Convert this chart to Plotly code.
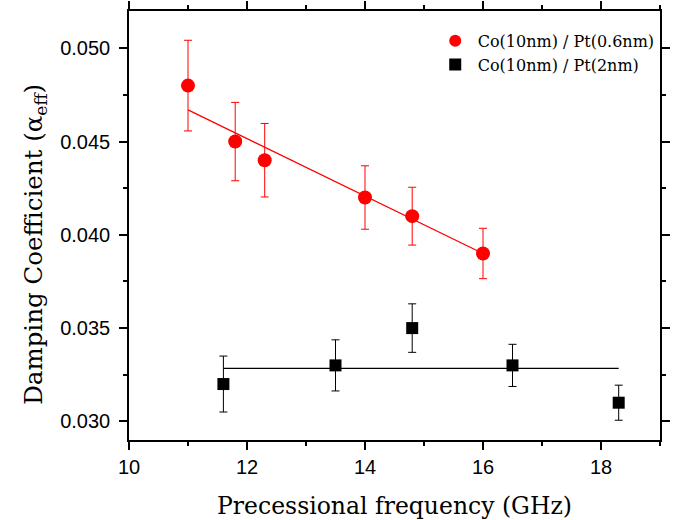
import plotly.graph_objects as go

# Co(10nm)/Pt(0.6nm)
red_x = [11.0, 11.8, 12.3, 14.0, 14.8, 16.0]
red_y = [0.0480, 0.0450, 0.0440, 0.0420, 0.0410, 0.0390]
red_err = [0.00243, 0.0021, 0.00197, 0.0017, 0.00155, 0.00135]
red_fit_x = [11.0, 16.0]
red_fit_y = [0.0467, 0.0390]

# Co(10nm)/Pt(2nm)
blk_x = [11.6, 13.5, 14.8, 16.5, 18.3]
blk_y = [0.0320, 0.0330, 0.0350, 0.0330, 0.0310]
blk_err = [0.0015, 0.00137, 0.0013, 0.00113, 0.00094]
blk_fit_x = [11.6, 18.3]
blk_fit_y = [0.03284, 0.03284]

x_ticks = [10, 12, 14, 16, 18]
y_ticks = [0.030, 0.035, 0.040, 0.045, 0.050]
y_tick_text = ["0.030", "0.035", "0.040", "0.045", "0.050"]

serif = "DejaVu Serif, serif"
sans = "Liberation Sans, Arial, sans-serif"

fig = go.Figure()

fig.add_trace(go.Scatter(x=red_fit_x, y=red_fit_y, mode="lines",
                         line=dict(color="#ff0000", width=1.3),
                         showlegend=False, hoverinfo="skip"))
fig.add_trace(go.Scatter(x=blk_fit_x, y=blk_fit_y, mode="lines",
                         line=dict(color="#000000", width=1.3),
                         showlegend=False, hoverinfo="skip"))

fig.add_trace(go.Scatter(
    x=red_x, y=red_y, mode="markers", name="Co(10nm) / Pt(0.6nm)",
    marker=dict(symbol="circle", size=14, color="#ff0000"),
    error_y=dict(type="data", array=red_err, visible=True,
                 color="#ff0000", thickness=1, width=4)))
fig.add_trace(go.Scatter(
    x=blk_x, y=blk_y, mode="markers", name="Co(10nm) / Pt(2nm)",
    marker=dict(symbol="square", size=12, color="#000000"),
    error_y=dict(type="data", array=blk_err, visible=True,
                 color="#000000", thickness=1, width=4)))

axis_common = dict(
    showline=True, linecolor="black", linewidth=1.5, mirror="ticks",
    ticks="outside", ticklen=8, tickwidth=1.5, tickcolor="black",
    showgrid=False, zeroline=False, automargin=False,
    tickfont=dict(family=sans, size=20, color="black"),
)

fig.update_xaxes(
    range=[10, 19], tickvals=x_ticks,
    minor=dict(ticks="outside", ticklen=4, tickwidth=1.5, tickcolor="black", dtick=1),
    title=dict(text="Precessional frequency (GHz)",
               font=dict(family=serif, size=23.5, color="black"), standoff=24),
    **axis_common)
fig.update_yaxes(
    range=[0.029, 0.052], tickvals=y_ticks, ticktext=y_tick_text,
    minor=dict(ticks="outside", ticklen=4, tickwidth=1.5, tickcolor="black", dtick=0.0025),
    ticklabelstandoff=5,
    **axis_common)

fig.add_annotation(
    text="Damping Coefficient (α<sub>eff</sub>)", textangle=-90,
    xref="paper", yref="paper", x=0, y=0.455,
    xanchor="center", yanchor="middle", xshift=-94, showarrow=False,
    font=dict(family=serif, size=24.5, color="black"))

fig.update_layout(
    width=674, height=520,
    margin=dict(l=129, r=14, t=11, b=80),
    plot_bgcolor="white", paper_bgcolor="white",
    legend=dict(x=0.572, y=0.97, xanchor="left", yanchor="top",
                font=dict(family=serif, size=16, color="black"),
                bgcolor="rgba(0,0,0,0)", tracegroupgap=0,
                itemsizing="constant", itemwidth=35),
)

fig.write_html("out.html", config={"displayModeBar": False},
               post_script="document.body.style.margin='0';")
